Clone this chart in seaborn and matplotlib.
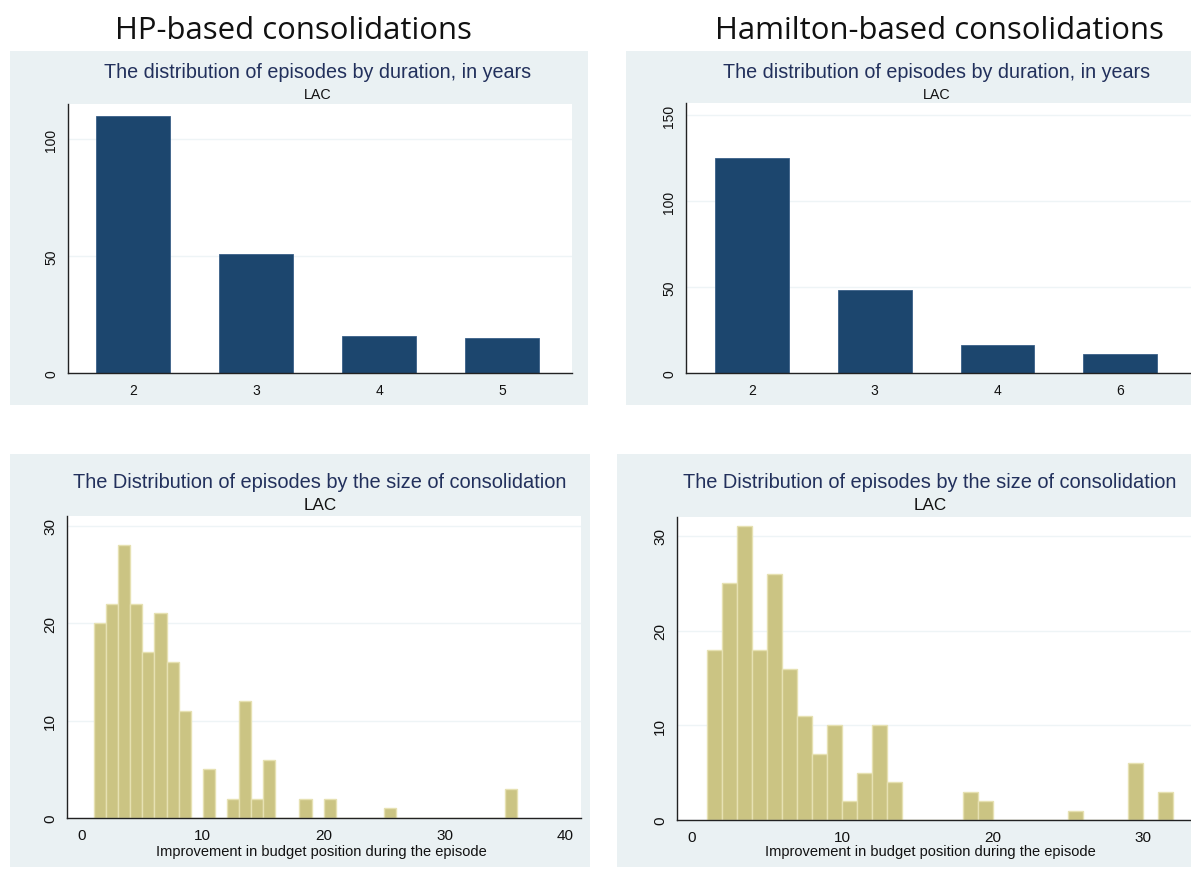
import numpy as np
import matplotlib
matplotlib.use("Agg")
import matplotlib.pyplot as plt
from matplotlib.patches import Rectangle
import seaborn as sns

# Episodes by duration (years)
hp_duration = ["2", "3", "4", "5"]
hp_duration_counts = [110, 51, 16, 15]
ham_duration = ["2", "3", "4", "6"]
ham_duration_counts = [125, 48, 16, 11]

# Episodes by size of consolidation, unit-wide bins starting at 1
hp_size_counts = [20, 22, 28, 22, 17, 21, 16, 11, 0, 5, 0, 2, 12, 2, 6, 0, 0, 2,
                  0, 2, 0, 0, 0, 0, 1, 0, 0, 0, 0, 0, 0, 0, 0, 0, 3]
ham_size_counts = [18, 25, 31, 18, 26, 16, 11, 7, 10, 2, 5, 10, 4, 0, 0, 0, 0, 3,
                   2, 0, 0, 0, 0, 0, 1, 0, 0, 0, 6, 0, 3]

hp_yticks_dur = [0, 50, 100]
ham_yticks_dur = [0, 50, 100, 150]
size_yticks = [0, 10, 20, 30]
hp_xticks_size = [0, 10, 20, 30, 40]
ham_xticks_size = [0, 10, 20, 30]

column_titles = ["HP-based consolidations", "Hamilton-based consolidations"]
dur_title = "The distribution of episodes by duration, in years"
size_title = "The Distribution of episodes by the size of consolidation"
subtitle = "LAC"
size_xlabel = "Improvement in budget position during the episode"

sns.set_style("white")
plt.rcParams["font.family"] = ["Liberation Sans", "DejaVu Sans"]

W, H = 1191, 870
NAVY = "#1C466E"
KHAKI = "#CBC483"
KHAKI_EDGE = "#E6E1B2"
PANEL = "#EAF1F3"
TITLE_COL = "#22305C"
GRID = "#EEF4F6"

fig = plt.figure(figsize=(W / 100, H / 100), dpi=100, facecolor="white")


def frac_rect(left, top, right, bottom):
    return [left / W, 1 - bottom / H, (right - left) / W, (bottom - top) / H]


def fx(x):
    return x / W


def fy(y):
    return 1 - y / H


# light panel backgrounds behind each graph
for (l, t, r, b) in [(10, 52, 588, 406), (626, 52, 1260, 406),
                     (10, 455, 590, 868), (617, 455, 1260, 868)]:
    fig.patches.append(Rectangle((fx(l), fy(b)), (r - l) / W, (b - t) / H,
                                 transform=fig.transFigure, facecolor=PANEL,
                                 edgecolor="none", zorder=-5))


def style_axes(ax, yticks):
    ax.set_facecolor("white")
    for s in ["top", "right"]:
        ax.spines[s].set_visible(False)
    for s in ["left", "bottom"]:
        ax.spines[s].set_color("#222222")
        ax.spines[s].set_linewidth(1.0)
    ax.set_yticks(yticks)
    ax.yaxis.grid(True, color=GRID, linewidth=1.0)
    ax.xaxis.grid(False)
    ax.set_axisbelow(True)
    ax.tick_params(axis="both", direction="out", length=4, width=0.8,
                   color="#333333", labelsize=10, labelcolor="#111111", pad=3)
    ax.tick_params(axis="y", labelrotation=90)
    for lbl in ax.get_yticklabels():
        lbl.set_va("center")
    ax.set_xlabel("")
    ax.set_ylabel("")


# Top-left: HP durations
ax1 = fig.add_axes(frac_rect(68, 105, 572, 374))
sns.barplot(x=hp_duration, y=hp_duration_counts, ax=ax1, color=NAVY,
            width=0.6, saturation=1, edgecolor="#3A6088", linewidth=0.6)
ax1.set_xlim(-0.53, 3.57)
ax1.set_ylim(0, 115)
style_axes(ax1, hp_yticks_dur)

# Top-right: Hamilton durations
ax2 = fig.add_axes(frac_rect(686, 104, 1191, 374))
sns.barplot(x=ham_duration, y=ham_duration_counts, ax=ax2, color=NAVY,
            width=0.6, saturation=1, edgecolor="#3A6088", linewidth=0.6)
ax2.set_xlim(-0.54, 3.58)
ax2.set_ylim(0, 157)
style_axes(ax2, ham_yticks_dur)


def size_hist(ax, counts):
    # one observation per episode, placed at the middle of its unit bin
    mids = np.arange(1, len(counts) + 1) + 0.5
    episodes = np.repeat(mids, counts)
    sns.histplot(x=episodes, bins=np.arange(1, len(counts) + 2), ax=ax,
                 color=KHAKI, edgecolor=KHAKI_EDGE, linewidth=1.0, alpha=1)


# Bottom-left: HP sizes
ax3 = fig.add_axes(frac_rect(67, 517, 581, 819))
size_hist(ax3, hp_size_counts)
ax3.set_xlim(-1.24, 41.3)
ax3.set_ylim(0, 31)
ax3.set_xticks(hp_xticks_size)
style_axes(ax3, size_yticks)
ax3.tick_params(axis="x", labelsize=11)
ax3.tick_params(axis="y", labelsize=11)

# Bottom-right: Hamilton sizes
ax4 = fig.add_axes(frac_rect(677, 518, 1191, 821))
size_hist(ax4, ham_size_counts)
ax4.set_xlim(-1.0, 33.2)
ax4.set_ylim(0, 32)
ax4.set_xticks(ham_xticks_size)
style_axes(ax4, size_yticks)
ax4.tick_params(axis="x", labelsize=11)
ax4.tick_params(axis="y", labelsize=11)

# Titles and labels
for cx, txt in zip([293, 939], column_titles):
    fig.text(fx(cx), fy(39), txt, ha="center", va="baseline", fontsize=22.4,
             family=["Open Sans", "DejaVu Sans"], color="#111111")

for cx in [318, 937]:
    fig.text(fx(cx), fy(73), dur_title, ha="center", va="center",
             fontsize=14.2, color=TITLE_COL)
    fig.text(fx(cx), fy(95), subtitle, ha="center", va="center",
             fontsize=10.3, color="#111111")

for cx in [320, 930]:
    fig.text(fx(cx), fy(483), size_title, ha="center", va="center",
             fontsize=14.4, color=TITLE_COL)
    fig.text(fx(cx), fy(506), subtitle, ha="center", va="center",
             fontsize=12.3, color="#111111")

for cx in [321, 930]:
    fig.text(fx(cx), fy(852), size_xlabel, ha="center", va="center",
             fontsize=10.5, color="#111111")

fig.savefig("out.png", dpi=100, facecolor="white")
